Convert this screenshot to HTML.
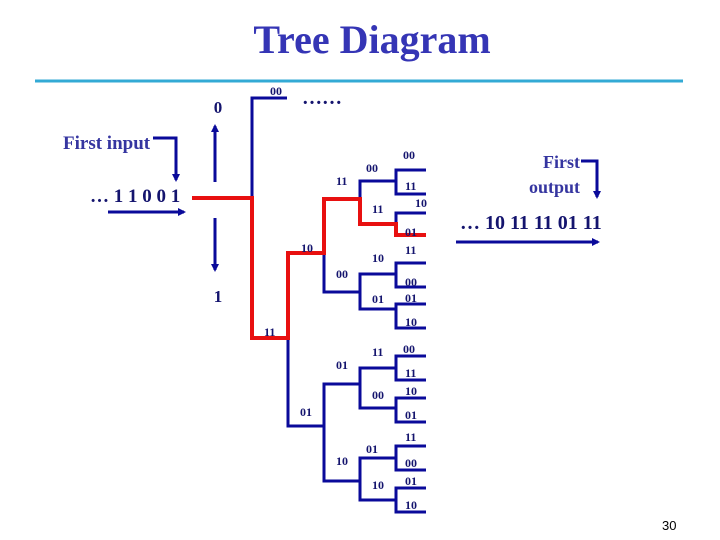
<!DOCTYPE html>
<html><head><meta charset="utf-8"><style>
html,body{margin:0;padding:0;background:#fff}
svg{display:block}
text{font-family:"Liberation Serif",serif;font-weight:bold;fill:#14146e}
.l{font-size:12px}
</style></head><body>
<svg width="720" height="540" viewBox="0 0 720 540" xmlns="http://www.w3.org/2000/svg">
<defs>
<marker id="ah" markerWidth="8" markerHeight="8" refX="6" refY="4" orient="auto" markerUnits="userSpaceOnUse">
<path d="M0,0 L8,4 L0,8 Z" fill="#0a0a9a"/></marker>
</defs>
<text x="372" y="53" text-anchor="middle" style="font-size:40px;fill:#3535b5">Tree Diagram</text>
<line x1="35" y1="81" x2="683" y2="81" stroke="#33aad5" stroke-width="3"/>

<g stroke="#0a0a9a" stroke-width="3" fill="none">
<line x1="215" y1="182" x2="215" y2="126" marker-end="url(#ah)"/>
<line x1="215" y1="218" x2="215" y2="270" marker-end="url(#ah)"/>
<polyline points="153,138 176,138 176,180" marker-end="url(#ah)"/>
<line x1="108" y1="212" x2="184" y2="212" marker-end="url(#ah)"/>
<polyline points="581,161 597,161 597,197" marker-end="url(#ah)"/>
<line x1="456" y1="242" x2="598" y2="242" marker-end="url(#ah)"/>
<polyline points="287,98 252,98 252,198"/>
<polyline points="288,338 288,426 324,426"/>
<polyline points="324,253 324,292 360,292"/>
<polyline points="360,384 324,384 324,481 360,481"/>
<polyline points="396,181 360,181 360,199"/>
<polyline points="396,274 360,274 360,309 396,309"/>
<polyline points="396,368 360,368 360,408 396,408"/>
<polyline points="396,458 360,458 360,500 396,500"/>
<polyline points="426,170 396,170 396,194 426,194"/>
<polyline points="426,213 396,213 396,224"/>
<polyline points="426,263 396,263 396,287 426,287"/>
<polyline points="426,304 396,304 396,328 426,328"/>
<polyline points="426,356 396,356 396,380 426,380"/>
<polyline points="426,398 396,398 396,422 426,422"/>
<polyline points="426,446 396,446 396,470 426,470"/>
<polyline points="426,488 396,488 396,512 426,512"/>
</g>
<polyline points="192,198 252,198 252,338 288,338 288,253 324,253 324,199 360,199 360,224 396,224 396,235 426,235" stroke="#e81010" stroke-width="4" fill="none"/>

<text x="218" y="113" text-anchor="middle" style="font-size:17px">0</text>
<text x="218" y="302" text-anchor="middle" style="font-size:17px">1</text>
<text x="302" y="104" style="font-size:20px">……</text>
<text x="63" y="149" style="font-size:19px;fill:#3535a0">First input</text>
<text x="90" y="202" style="font-size:19px">… 1 1 0 0 1</text>
<text x="580" y="168" text-anchor="end" style="font-size:18px;fill:#3535a0">First</text>
<text x="580" y="193" text-anchor="end" style="font-size:18px;fill:#3535a0">output</text>
<text x="460" y="229" style="font-size:20px">… 10 11 11 01 11</text>

<g class="l">
<text x="270" y="95">00</text>
<text x="264" y="336">11</text>
<text x="301" y="252">10</text>
<text x="300" y="416">01</text>
<text x="336" y="185">11</text>
<text x="336" y="278">00</text>
<text x="336" y="369">01</text>
<text x="336" y="465">10</text>
<text x="366" y="172">00</text>
<text x="372" y="213">11</text>
<text x="372" y="262">10</text>
<text x="372" y="303">01</text>
<text x="372" y="356">11</text>
<text x="372" y="399">00</text>
<text x="366" y="453">01</text>
<text x="372" y="489">10</text>
<text x="403" y="159">00</text>
<text x="405" y="190">11</text>
<text x="415" y="207">10</text>
<text x="405" y="236">01</text>
<text x="405" y="254">11</text>
<text x="405" y="286">00</text>
<text x="405" y="302">01</text>
<text x="405" y="326">10</text>
<text x="403" y="353">00</text>
<text x="405" y="377">11</text>
<text x="405" y="395">10</text>
<text x="405" y="419">01</text>
<text x="405" y="441">11</text>
<text x="405" y="467">00</text>
<text x="405" y="485">01</text>
<text x="405" y="509">10</text>
</g>
<text x="662" y="530" style="font-family:'Liberation Sans',sans-serif;font-weight:normal;font-size:13px;fill:#000">30</text>
</svg>
</body></html>
